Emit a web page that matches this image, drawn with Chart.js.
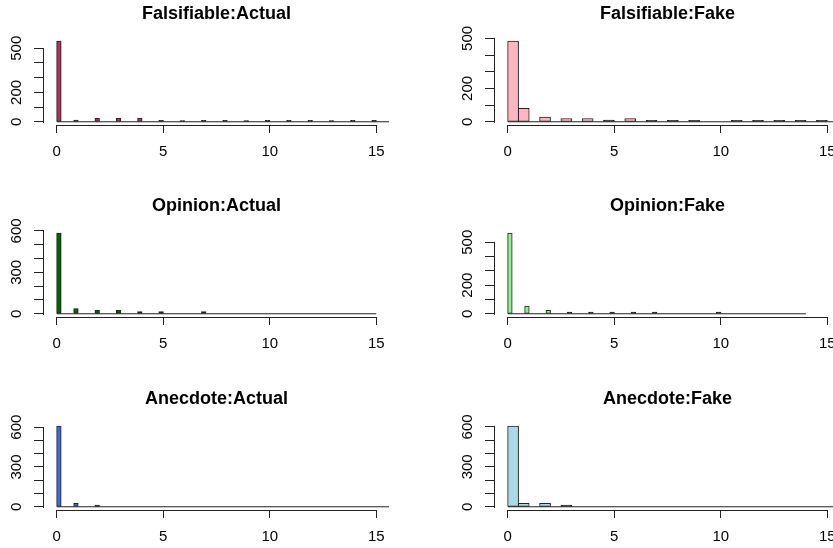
<!DOCTYPE html>
<html>
<head>
<meta charset="utf-8">
<title>Histograms</title>
<script src="https://cdn.jsdelivr.net/npm/chart.js@4"></script>
<style>
  body { margin: 0; background: #fff; }
  #wrap { position: relative; width: 833px; height: 548px; overflow: hidden; }
  canvas { position: absolute; }
</style>
</head>
<body>
<div id="wrap"></div>
<script>
const titles = ['Falsifiable:Actual', 'Falsifiable:Fake', 'Opinion:Actual', 'Opinion:Fake', 'Anecdote:Actual', 'Anecdote:Fake'];

// counts for the values 0, 1, 2, ...
const falsifiableActual = [548, 10, 22, 22, 24, 8, 7, 8, 8, 7, 8, 8, 8, 7, 8, 8];
const falsifiableFake = [483, 79, 27, 18, 18, 9, 18, 8, 8, 8, 0, 8, 8, 8, 8, 8];
const opinionActual = [583, 36, 24, 24, 14, 14, 0, 14];
const opinionFake = [563, 53, 23, 10, 10, 10, 10, 10, 0, 0, 10];
const anecdoteActual = [607, 25, 12];
const anecdoteFake = [605, 25, 25, 12];
const counts = [falsifiableActual, falsifiableFake, opinionActual, opinionFake, anecdoteActual, anecdoteFake];

const binWidths = [0.2, 0.5, 0.2, 0.2, 0.2, 0.5];
const lastBreaks = [16, 16, 15, 14, 16, 16];
const barColors = ['#B03060', '#FFB6C1', '#006400', '#90EE90', '#4169E1', '#ADD8E6'];

const xLimits = [0, 15];
const xTicks = [0, 5, 10, 15];
const yTickTops = [500, 500, 600, 500, 600, 600];
const yLabelled = [[0, 200, 500], [0, 200, 500], [0, 300, 600], [0, 200, 500], [0, 300, 600], [0, 300, 600]];

const lineColor = '#222';
const cellLeft = [0, 451];
const cellTop = [0, 192, 385];

Chart.defaults.font.family = "'Liberation Sans', Arial, sans-serif";
Chart.defaults.font.size = 15;
Chart.defaults.color = '#000';

// one bar per bin, value v falls in (v - w, v], 0 goes in the first bin
function histBins(values, width, lastBreak) {
  const n = Math.round(lastBreak / width);
  const bins = [];
  for (let i = 0; i < n; i++) bins.push({ x: (i + 0.5) * width, y: 0 });
  values.forEach((c, v) => {
    const i = v === 0 ? 0 : Math.round(v / width) - 1;
    bins[i].y = c;
  });
  return bins;
}

// fill hidden under the outline when a bar is only a pixel or two tall
function binFill(c, color) {
  const y = c.raw && c.raw.y;
  if (!y) return 'transparent';
  const s = c.chart.scales.y;
  const h = Math.abs(s.getPixelForValue(0) - s.getPixelForValue(y));
  return h < 2 ? lineColor : color;
}

// axis lines only from first to last tick, like base R graphics
const rAxes = {
  id: 'rAxes',
  afterDraw(chart) {
    const { ctx, chartArea, scales: { x, y } } = chart;
    const align = (v) => Math.round(v) + 0.5;
    ctx.save();
    ctx.strokeStyle = lineColor;
    ctx.lineWidth = 1;
    ctx.lineCap = 'square';
    ctx.beginPath();
    const ax = Math.round(chartArea.left) - 0.5;
    ctx.moveTo(ax, align(y.getPixelForValue(y.ticks[0].value)));
    ctx.lineTo(ax, align(y.getPixelForValue(y.ticks[y.ticks.length - 1].value)));
    const ay = Math.round(chartArea.bottom) + 0.5;
    ctx.moveTo(align(x.getPixelForValue(x.ticks[0].value)), ay);
    ctx.lineTo(align(x.getPixelForValue(x.ticks[x.ticks.length - 1].value)), ay);
    ctx.stroke();
    ctx.restore();
  }
};

const wrap = document.getElementById('wrap');
const xPad = (xLimits[1] - xLimits[0]) * 0.04;

titles.forEach((title, k) => {
  const canvas = document.createElement('canvas');
  canvas.width = 450;
  canvas.height = 165;
  canvas.style.left = cellLeft[k % 2] + 'px';
  canvas.style.top = cellTop[Math.floor(k / 2)] + 'px';
  wrap.appendChild(canvas);

  const top = Math.max(...counts[k]);
  const ticksY = [];
  for (let v = 0; v <= yTickTops[k]; v += 100) ticksY.push(v);

  new Chart(canvas, {
    type: 'bar',
    data: {
      datasets: [{
        type: 'bar',
        data: histBins(counts[k], binWidths[k], lastBreaks[k]),
        backgroundColor: (c) => binFill(c, barColors[k]),
        borderColor: lineColor,
        borderWidth: 1,
        borderSkipped: false,
        inflateAmount: 0.5,
        barPercentage: 1,
        categoryPercentage: 1
      }, {
        // empty bins still show as a flat line along zero
        type: 'line',
        order: -1,
        data: [{ x: 0, y: 0 }, { x: lastBreaks[k], y: 0 }],
        borderColor: lineColor,
        borderWidth: 1,
        pointRadius: 0
      }]
    },
    options: {
      responsive: false,
      animation: false,
      events: [],
      layout: { padding: { left: 0, right: 61, top: 0, bottom: 0 } },
      plugins: {
        legend: { display: false },
        tooltip: { enabled: false },
        title: {
          display: true,
          text: title,
          fullSize: false,
          color: '#000',
          font: { size: 18, weight: 'bold' },
          padding: { top: 3, bottom: 13.4 }
        }
      },
      scales: {
        x: {
          type: 'linear',
          min: xLimits[0] - xPad,
          max: xLimits[1] + xPad,
          offset: false,
          grid: { offset: false, drawOnChartArea: false, tickLength: 8, color: lineColor },
          border: { display: false },
          ticks: { autoSkip: false, maxRotation: 0, padding: 10 },
          afterBuildTicks: (s) => { s.ticks = xTicks.map(v => ({ value: v })); },
          afterFit: (s) => { s.height = 40; }
        },
        y: {
          type: 'linear',
          min: -0.04 * top,
          max: 1.04 * top,
          grid: { drawOnChartArea: false, tickLength: 10, color: lineColor },
          border: { display: false },
          ticks: {
            autoSkip: false,
            minRotation: 90,
            maxRotation: 90,
            crossAlign: 'center',
            padding: 5,
            callback: (v) => yLabelled[k].includes(v) ? String(v) : ''
          },
          afterBuildTicks: (s) => { s.ticks = ticksY.map(v => ({ value: v })); },
          afterFit: (s) => { s.width = 44; }
        }
      }
    },
    plugins: [rAxes]
  });
});
</script>
</body>
</html>
